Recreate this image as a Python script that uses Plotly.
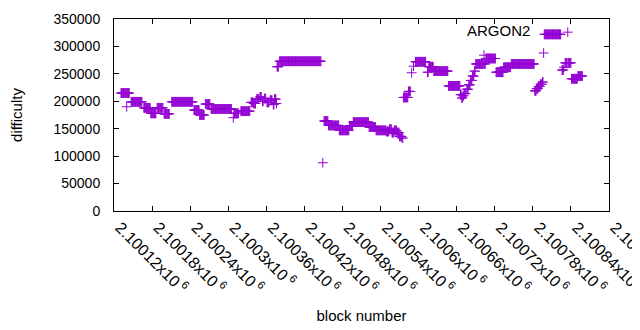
import plotly.graph_objects as go

# block numbers are offsets from this base
block_base = 2100000

# runs of (first block offset, last block offset, difficulty)
run_start = [131, 140, 147, 167, 178, 188, 199, 211, 246, 255, 264, 273, 308, 309, 320,
             336, 340, 345, 350, 354, 357, 361, 366, 371, 373, 376, 377, 381, 449, 451, 458,
             475, 491, 497, 522, 533, 549, 554, 558, 562, 566, 570, 574, 576, 584, 589, 592, 595,
             614, 616, 624, 647, 666, 668, 670, 672, 676, 679, 682, 685, 688, 690, 703, 704,
             706, 722, 734, 746, 783, 786, 789, 792, 795, 797, 798, 826, 829, 831, 835, 836,
             841, 851]
run_end = [144, 140, 164, 177, 186, 197, 207, 244, 254, 262, 271, 305, 308, 316, 334,
           339, 343, 348, 352, 355, 359, 364, 369, 372, 375, 376, 379, 446, 449, 457, 474,
           490, 496, 521, 532, 548, 553, 557, 561, 565, 569, 573, 575, 583, 587, 589, 592, 611,
           615, 623, 646, 665, 667, 669, 671, 674, 678, 681, 684, 687, 689, 702, 703, 705,
           721, 733, 745, 782, 785, 788, 791, 794, 796, 797, 824, 828, 829, 834, 835, 840,
           850, 858]
run_difficulty = [215000, 190000, 199000, 188000, 178000, 188000, 177000, 199000, 184000,
                  175000, 195000, 186000, 170000, 178000, 182000,
                  198000, 196000, 204000, 208000, 200000, 205000, 198000, 202000, 194000, 204000,
                  196000, 263000, 273000, 88000, 164000, 156000,
                  147000, 155000, 162000, 153000, 147000, 145000, 149000, 143000, 147000, 143000,
                  136000, 133000, 207000, 218000, 252000, 264000, 272000,
                  253000, 263000, 255000, 228000, 212000, 206000, 210000, 214000, 222000,
                  230000, 238000, 246000, 255000, 268000, 284000, 268000,
                  278000, 253000, 262000, 268000, 219000, 223000, 227000, 231000, 235000,
                  288000, 322000, 257000, 262000, 270000, 326000, 270000,
                  241000, 246000]

tick_values = [2100120, 2100180, 2100240, 2100300, 2100360, 2100420, 2100480,
               2100540, 2100600, 2100660, 2100720, 2100780, 2100840, 2100900]
tick_labels = ["2.10012", "2.10018", "2.10024", "2.1003", "2.10036", "2.10042", "2.10048",
               "2.10054", "2.1006", "2.10066", "2.10072", "2.10078", "2.10084", "2.1009"]

blocks = []
difficulty = []
for s, e, d in zip(run_start, run_end, run_difficulty):
    for b in range(s, e + 1):
        blocks.append(block_base + b)
        difficulty.append(d)

purple = "#9400d3"
font_family = "Liberation Sans, Arial, sans-serif"

fig = go.Figure()
fig.add_trace(go.Scatter(
    x=blocks, y=difficulty, mode="markers", name="ARGON2", showlegend=False,
    marker=dict(symbol="cross-thin", size=7, color=purple,
                line=dict(width=1, color=purple)),
))

fig.add_annotation(text="ARGON2", xref="paper", yref="paper", x=0.845, y=0.94,
                   xanchor="right", yanchor="middle", showarrow=False,
                   font=dict(family=font_family, size=15, color="black"))

axis_common = dict(showline=True, linecolor="black", linewidth=1, mirror="ticks",
                   ticks="inside", ticklen=5, tickcolor="black", showgrid=False,
                   zeroline=False)

fig.update_layout(
    # the page body adds an 8px offset, so the figure is 8px smaller than the window
    width=632, height=322,
    margin=dict(l=106, r=31, t=11, b=119),
    paper_bgcolor="white", plot_bgcolor="white",
    font=dict(family=font_family, size=14, color="black"),
    xaxis=dict(range=[2100120, 2100900], tickvals=tick_values,
               ticktext=[t + "x10<sup> 6</sup>" for t in tick_labels],
               tickangle=45, automargin=False, ticklabelshift=6,
               ticklabeloverflow="allow",
               tickfont=dict(family=font_family, size=16, color="black"),
               title=dict(text="block number", font=dict(size=15), standoff=14),
               **axis_common),
    yaxis=dict(range=[0, 350000], dtick=50000, tickformat="d", automargin=False,
               ticklabelstandoff=10,
               tickfont=dict(family=font_family, size=14, color="black"),
               title=dict(text="difficulty", font=dict(size=15), standoff=30),
               **axis_common),
)

fig.write_html("out.html")
